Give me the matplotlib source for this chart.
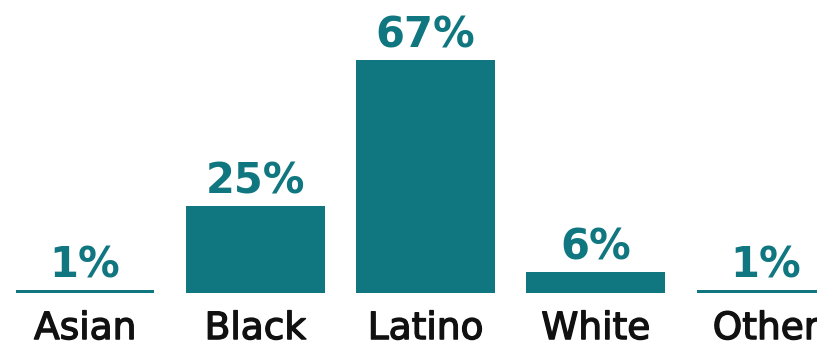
import numpy as np
import matplotlib
matplotlib.use("Agg")
import matplotlib.pyplot as plt
import matplotlib.patheffects as pe

categories = ["Asian", "Black", "Latino", "White", "Other"]
shares = [1, 25, 67, 6, 1]
value_labels = ["1%", "25%", "67%", "6%", "1%"]

teal = "#10767f"
dark = "#111111"

fig = plt.figure(figsize=(8.17, 3.47), dpi=100)
ax = fig.add_axes([0, 54 / 347, 1, 293 / 347])

x = np.arange(len(categories))
ax.bar(x, shares, width=0.815, color=teal)

for xi, v, lab in zip(x, shares, value_labels):
    ax.annotate(lab, (xi, v), xytext=(0, 9), textcoords="offset points",
                ha="center", va="baseline", color=teal, fontsize=30,
                fontweight="bold", family="DejaVu Sans")

ax.set_xlim(-0.5, 4.3)
ax.set_ylim(0, 84.3)
ax.set_xticks(x)
ax.set_xticklabels(categories, fontsize=27, family="DejaVu Sans", color=dark)
for t in ax.get_xticklabels():
    t.set_path_effects([pe.withStroke(linewidth=1.0, foreground=dark)])
ax.tick_params(axis="x", length=0, pad=13)
ax.set_yticks([])
for s in ax.spines.values():
    s.set_visible(False)

fig.savefig("out.png", dpi=100)
